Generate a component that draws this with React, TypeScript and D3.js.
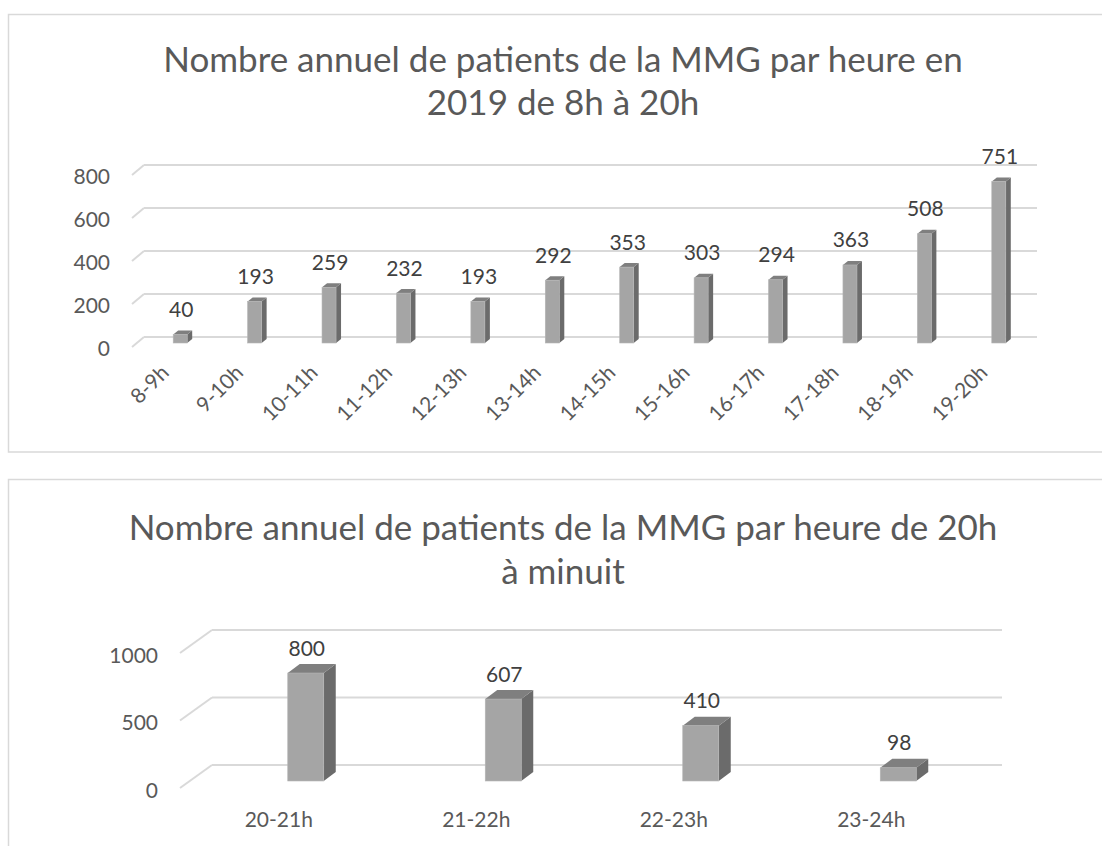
import React from "react";
import * as d3 from "d3";

const hours1 = ["8-9h", "9-10h", "10-11h", "11-12h", "12-13h", "13-14h", "14-15h", "15-16h", "16-17h", "17-18h", "18-19h", "19-20h"];
const values1 = [40, 193, 259, 232, 193, 292, 353, 303, 294, 363, 508, 751];
const ticks1 = [0, 200, 400, 600, 800];
const title1 = ["Nombre annuel de patients de la MMG par heure en", "2019 de 8h à 20h"];

const hours2 = ["20-21h", "21-22h", "22-23h", "23-24h"];
const values2 = [800, 607, 410, 98];
const ticks2 = [0, 500, 1000];
const title2 = ["Nombre annuel de patients de la MMG par heure de 20h", "à minuit"];

const FONT = "Lato, 'Open Sans', sans-serif";
const GRID = "#d9d9d9";
const TXT = "#595959";
const LBL = "#404040";
const FRONT = "#a5a5a5";
const SIDE = "#6b6b6b";
const TOP = "#7f7f7f";

type Cfg = {
  cats: string[];
  vals: number[];
  ticks: number[];
  title: string[];
  titleY: number[];
  x0: number;
  x1: number;
  yBase: number;
  yTop: number;
  yMax: number;
  depthX: number;
  depthY: number;
  tickX: number;
  tickDy: number;
  barBase: number;
  barW: number;
  barShift: number;
  sideX: number;
  sideY: number;
  rotate: boolean;
  labelY: number;
};

function Chart3D({ c }: { c: Cfg }) {
  const x = d3.scaleBand<string>().domain(c.cats).range([c.x0, c.x1]).padding(0);
  const y = d3.scaleLinear().domain([0, c.yMax]).range([c.yBase, c.yTop]);
  return (
    <g>
      {c.title.map((t, i) => (
        <text key={i} x={563} y={c.titleY[i]} textAnchor="middle" fontSize={35} fill={TXT} fontFamily={FONT}>
          {t}
        </text>
      ))}
      {c.ticks.map((t) => (
        <g key={t}>
          <line x1={c.x0 - c.depthX} y1={y(t) + c.depthY} x2={c.x0} y2={y(t)} stroke={GRID} strokeWidth={2} />
          <line x1={c.x0} y1={y(t)} x2={c.x1} y2={y(t)} stroke={GRID} strokeWidth={2} />
          <text x={c.tickX} y={y(t) + c.tickDy} textAnchor="end" fontSize={21} fill={TXT} fontFamily={FONT}>
            {t}
          </text>
        </g>
      ))}
      {c.cats.map((cat, i) => {
        const bc = (x(cat) as number) + x.bandwidth() / 2;
        const fc = bc + c.barShift;
        const xl = fc - c.barW / 2;
        const xr = fc + c.barW / 2;
        const h = y(0) - y(c.vals[i]);
        const yt = c.barBase - h;
        const dx = c.sideX;
        const dy = c.sideY;
        const floorFront = bc - c.depthX;
        return (
          <g key={cat}>
            <polygon points={`${xr},${yt} ${xr + dx},${yt - dy} ${xr + dx},${c.barBase - dy} ${xr},${c.barBase}`} fill={SIDE} />
            <polygon points={`${xl},${yt} ${xr},${yt} ${xr + dx},${yt - dy} ${xl + dx},${yt - dy}`} fill={TOP} />
            <rect x={xl} y={yt} width={c.barW} height={h} fill={FRONT} stroke="#b4b4b4" strokeWidth={0.6} />
            <text x={fc + 1} y={yt - 17.5} textAnchor="middle" fontSize={21} fill={LBL} fontFamily={FONT}>
              {c.vals[i]}
            </text>
            {c.rotate ? (
              <text
                transform={`translate(${floorFront + 1},${c.labelY}) rotate(-45)`}
                textAnchor="end"
                fontSize={21}
                fill={TXT}
                fontFamily={FONT}
              >
                {cat}
              </text>
            ) : (
              <text x={floorFront} y={c.labelY} textAnchor="middle" fontSize={21} fill={TXT} fontFamily={FONT}>
                {cat}
              </text>
            )}
          </g>
        );
      })}
    </g>
  );
}

const cfg1: Cfg = {
  cats: hours1,
  vals: values1,
  ticks: ticks1,
  title: title1,
  titleY: [72, 115],
  x0: 144,
  x1: 1037,
  yBase: 337,
  yTop: 165,
  yMax: 800,
  depthX: 12,
  depthY: 10,
  tickX: 110,
  tickDy: 18.5,
  barBase: 343,
  barW: 14,
  barShift: -1,
  sideX: 5,
  sideY: 4,
  rotate: true,
  labelY: 374,
};

const cfg2: Cfg = {
  cats: hours2,
  vals: values2,
  ticks: ticks2,
  title: title2,
  titleY: [540, 584],
  x0: 212,
  x1: 1002,
  yBase: 765,
  yTop: 630,
  yMax: 1000,
  depthX: 32,
  depthY: 23,
  tickX: 158,
  tickDy: 32.5,
  barBase: 781,
  barW: 36,
  barShift: -5,
  sideX: 12,
  sideY: 9,
  rotate: false,
  labelY: 827,
};

export default function App() {
  return (
    <div style={{ position: "absolute", left: 0, top: 0 }}>
      <svg width={1102} height={846} style={{ display: "block", background: "#fff" }}>
        <rect x={8.5} y={14.5} width={1120} height={437.5} fill="#fff" stroke={GRID} strokeWidth={1.5} />
        <rect x={8.5} y={479.5} width={1120} height={400} fill="#fff" stroke={GRID} strokeWidth={1.5} />
        <Chart3D c={cfg1} />
        <Chart3D c={cfg2} />
      </svg>
    </div>
  );
}
